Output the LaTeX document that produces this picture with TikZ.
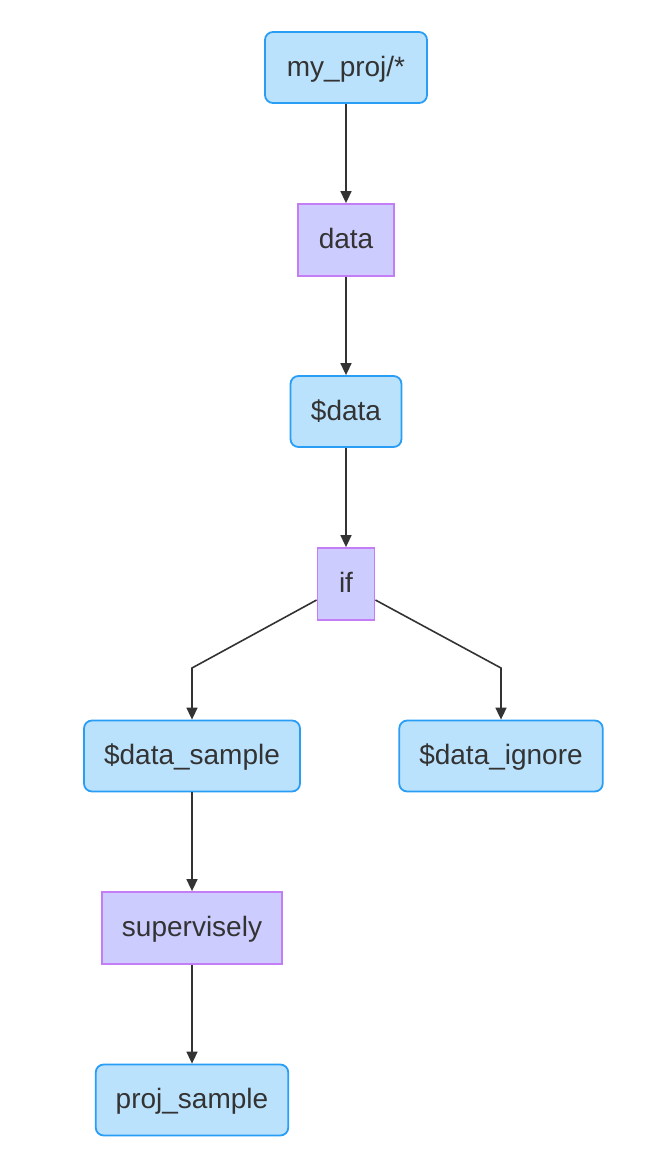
\documentclass[tikz,border=0pt]{standalone}
\usepackage{fontspec}
\setmainfont{Liberation Sans}
\usetikzlibrary{arrows.meta}
\definecolor{fileFill}{HTML}{BBE2FD}
\definecolor{fileLine}{HTML}{2A9DF4}
\definecolor{opFill}{HTML}{CCCCFF}
\definecolor{opLine}{HTML}{C47EF5}
\definecolor{arrowGray}{HTML}{333333}
\tikzset{
  filebox/.style={draw=fileLine, fill=fileFill, line width=1.8pt, rounded corners=8pt,
    minimum height=71pt, inner xsep=20pt, text height=21pt, text depth=4pt,
    font=\fontsize{28}{32}\selectfont, text=arrowGray},
  opbox/.style={draw=opLine, fill=opFill, line width=1.8pt,
    minimum height=72pt, inner xsep=20pt, text height=21pt, text depth=4pt,
    font=\fontsize{28}{32}\selectfont, text=arrowGray},
  link/.style={draw=arrowGray, line width=1.6pt, -{Triangle[length=12pt,width=11pt]}}
}
\begin{document}
\begin{tikzpicture}[x=1pt,y=-1pt]
\useasboundingbox (0,0) rectangle (672,1170);
\node[filebox, minimum width=162pt] (proj) at (346,67.5) {my\_proj/*};
\node[opbox, minimum width=96pt] (data) at (346,240) {data};
\node[filebox, minimum width=111pt] (var) at (346,411.5) {\$data};
\node[opbox, minimum width=57pt, inner xsep=6pt] (if) at (346,584) {if};
\node[filebox, minimum width=216pt] (smp) at (192,756) {\$data\_sample};
\node[filebox, minimum width=202pt] (ign) at (501,756) {\$data\_ignore};
\node[opbox, minimum width=180pt] (sup) at (192,928) {supervisely};
\node[filebox, minimum width=192pt] (out) at (192,1100) {proj\_sample};
\coordinate (lbend) at (192,668);
\coordinate (rbend) at (501,668);
\draw[link] (proj) -- (data);
\draw[link] (data) -- (var);
\draw[link] (var) -- (if);
\draw[link] ([yshift=-16pt]if.west) -- (lbend) -- (smp);
\draw[link] ([yshift=-16pt]if.east) -- (rbend) -- (ign);
\draw[link] (smp) -- (sup);
\draw[link] (sup) -- (out);
\end{tikzpicture}
\end{document}
